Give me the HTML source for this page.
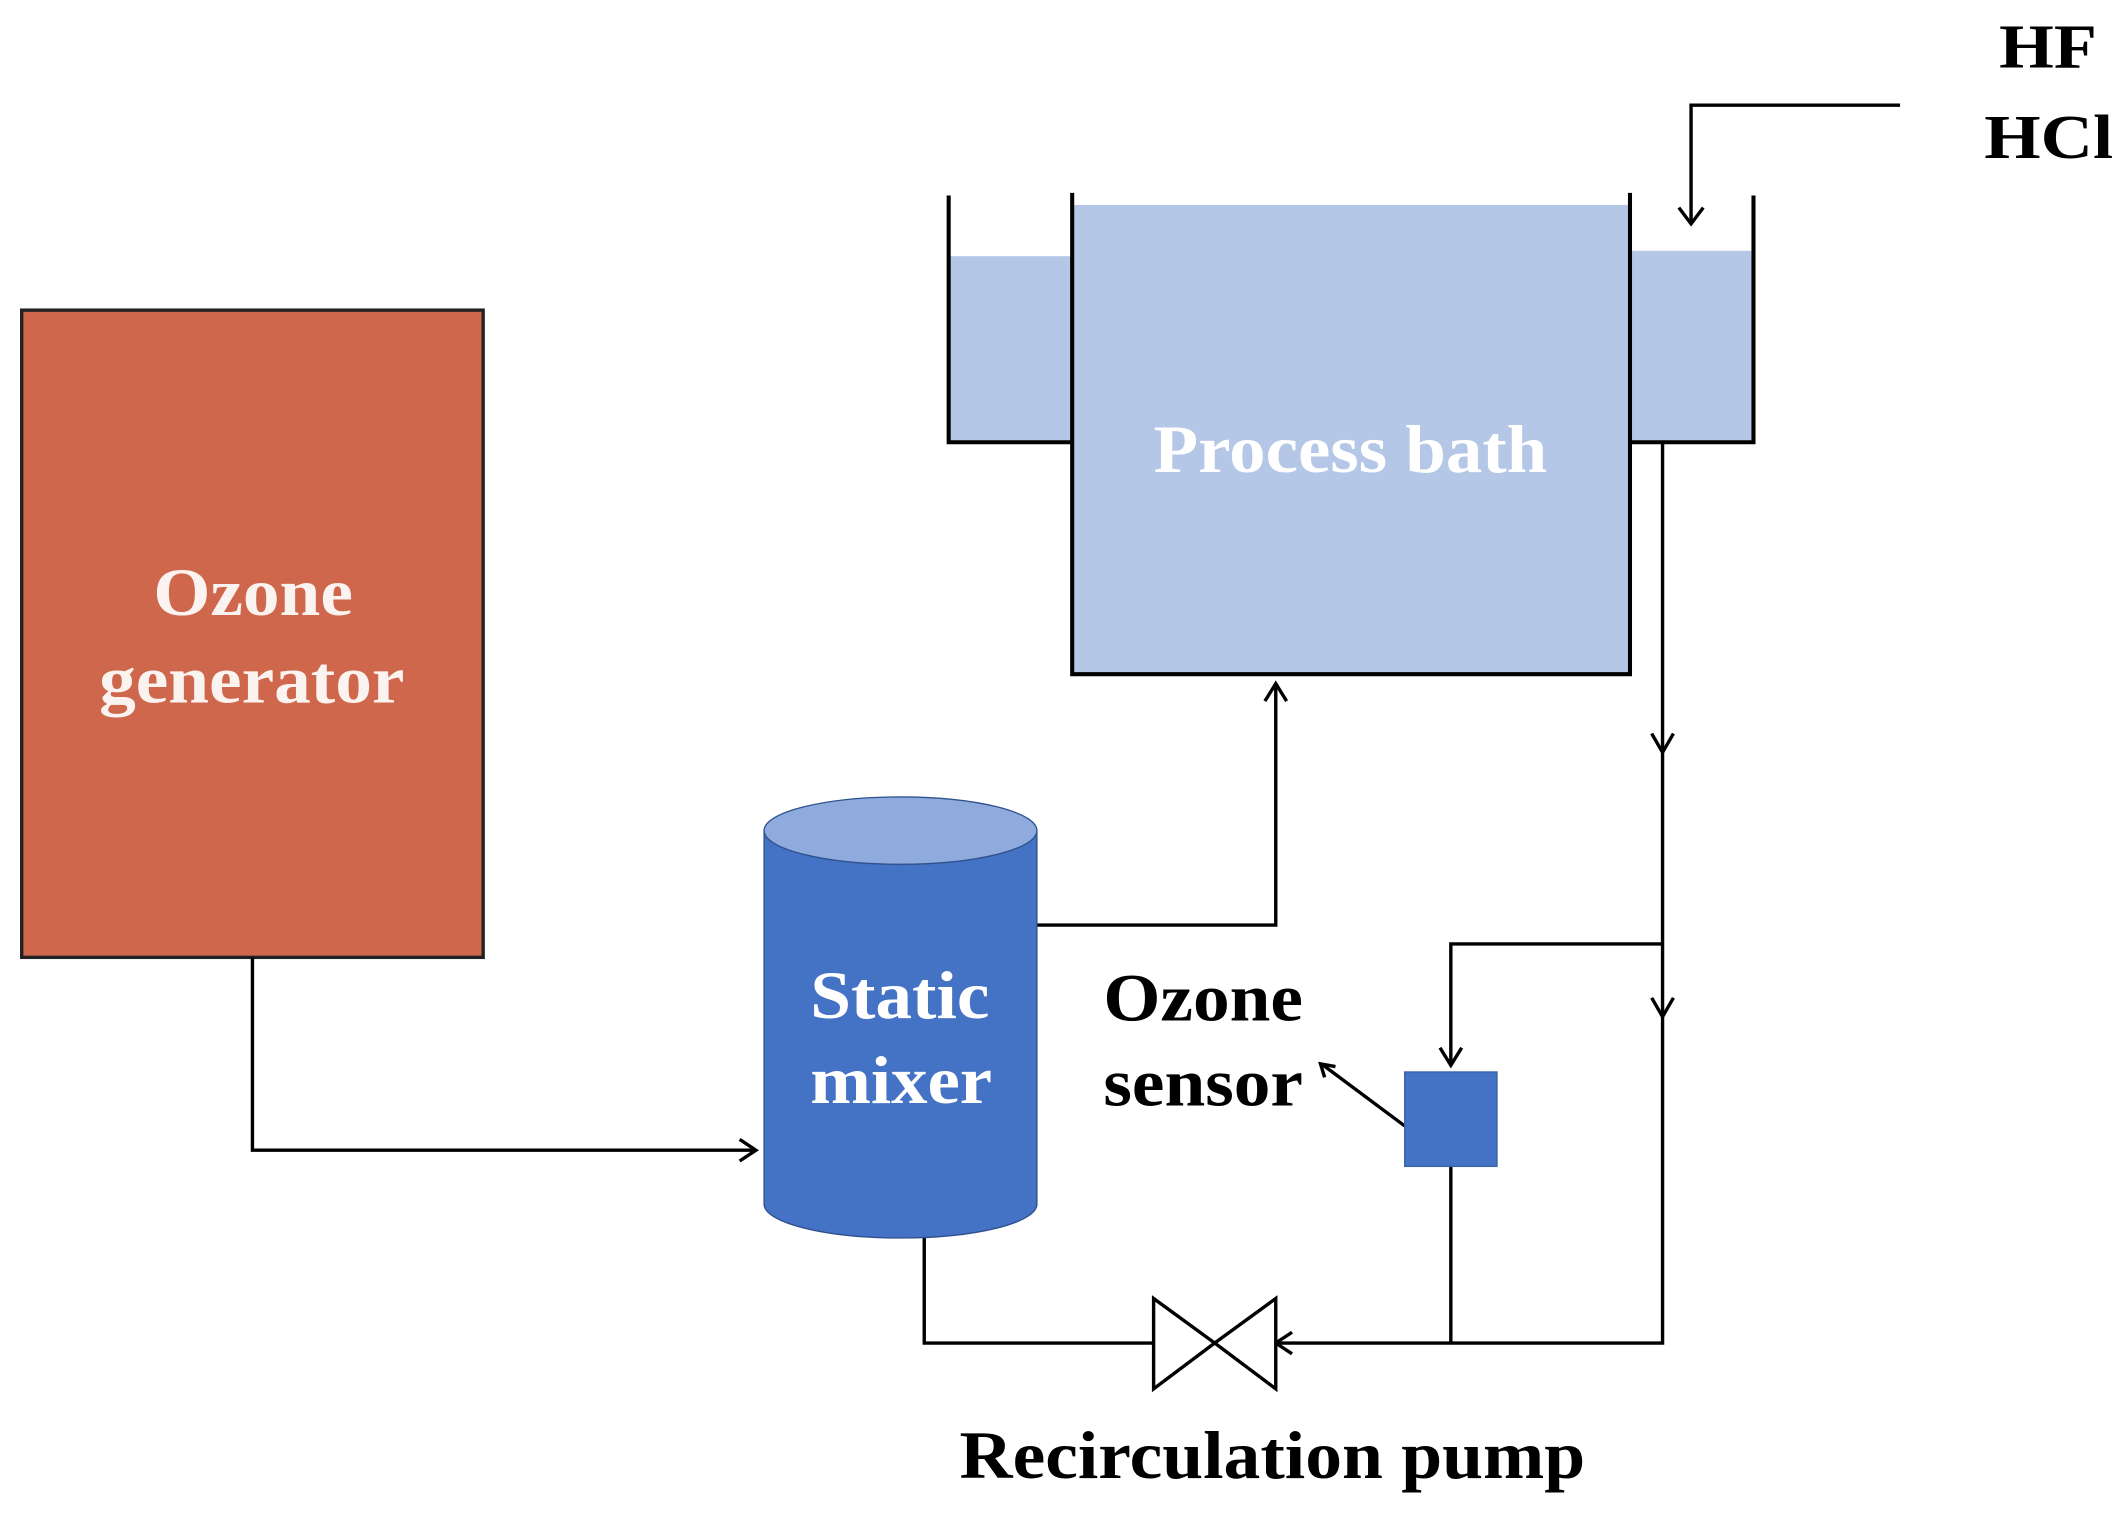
<!DOCTYPE html>
<html><head><meta charset="utf-8"><style>html,body{margin:0;padding:0;background:#fff}svg{display:block}</style></head>
<body>
<svg width="2124" height="1521" viewBox="0 0 1565 1128" preserveAspectRatio="none" xmlns="http://www.w3.org/2000/svg" font-family="'Liberation Serif', serif" font-weight="bold">
<rect x="16" y="230" width="340" height="480" fill="#CF674C" stroke="#222" stroke-width="2.5"/>
<text x="113" y="456" font-size="50" fill="#FBF3EF" textLength="147" lengthAdjust="spacingAndGlyphs">Ozone</text>
<text x="73" y="521" font-size="50" fill="#FBF3EF" textLength="225" lengthAdjust="spacingAndGlyphs">generator</text>
<rect x="699" y="190" width="91" height="138" fill="#B4C7E7"/>
<rect x="790" y="152" width="411" height="348" fill="#B4C7E7"/>
<rect x="1201" y="186" width="91" height="142" fill="#B4C7E7"/>
<g stroke="#000" stroke-width="3" fill="none">
<polyline points="699,145 699,328 790,328"/>
<polyline points="790,143 790,500 1201,500 1201,143"/>
<polyline points="1201,328 1292,328 1292,145"/>
</g>
<text x="850" y="350" font-size="50" fill="#fff" textLength="290" lengthAdjust="spacingAndGlyphs">Process bath</text>
<text x="1473" y="50" font-size="46" fill="#000" textLength="72" lengthAdjust="spacingAndGlyphs">HF</text>
<text x="1462" y="117" font-size="46" fill="#000" textLength="95" lengthAdjust="spacingAndGlyphs">HCl</text>
<g stroke="#000" stroke-width="2.5" fill="none">
<polyline points="1400,78 1246,78 1246,166"/>
<polyline points="1237,154 1246,166 1255,154"/>
<polyline points="1225,328 1225,996 940,996"/>
<polyline points="1217,544 1225,558 1233,544"/>
<polyline points="1217,740 1225,754 1233,740"/>
<polyline points="1225,700 1069,700 1069,790"/>
<polyline points="1061,777 1069,790 1077,777"/>
<line x1="1069" y1="865" x2="1069" y2="996"/>
<polyline points="952,988 940,996 952,1004"/>
<polyline points="850,996 681,996 681,918"/>
<polyline points="764,686 940,686 940,508"/>
<polyline points="932,520 940,507 948,520"/>
<polyline points="186,710 186,853 557,853"/>
<polyline points="545,845 557,853 545,861"/>
<line x1="1035" y1="835" x2="975" y2="790"/>
<polyline points="976,799 973,789 984,791"/>
</g>
<g stroke="#000" stroke-width="2.5" fill="#fff">
<polygon points="850,963 850,1030 895,996"/>
<polygon points="940,963 940,1030 895,996"/>
</g>
<rect x="1035" y="795" width="68" height="70" fill="#4472C4" stroke="#3A62A8" stroke-width="1"/>
<path d="M563,616 L563,893 A100,25 0 0 0 764,893 L764,616 Z" fill="#4472C4" stroke="#2F528F" stroke-width="1"/>
<ellipse cx="663.5" cy="616" rx="100.5" ry="25" fill="#8FAADC" stroke="#2F528F" stroke-width="1"/>
<text x="597" y="755" font-size="50" fill="#fff" textLength="132" lengthAdjust="spacingAndGlyphs">Static</text>
<text x="597" y="818" font-size="50" fill="#fff" textLength="134" lengthAdjust="spacingAndGlyphs">mixer</text>
<text x="813" y="757" font-size="50" fill="#000" textLength="147" lengthAdjust="spacingAndGlyphs">Ozone</text>
<text x="813" y="820" font-size="50" fill="#000" textLength="147" lengthAdjust="spacingAndGlyphs">sensor</text>
<text x="707" y="1096" font-size="50" fill="#000" textLength="461" lengthAdjust="spacingAndGlyphs">Recirculation pump</text>
</svg>
</body></html>
